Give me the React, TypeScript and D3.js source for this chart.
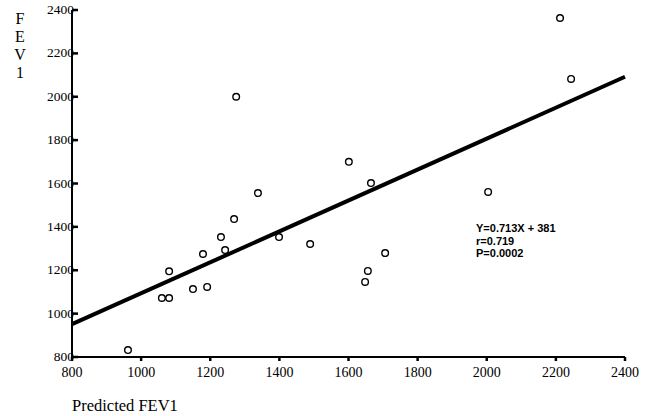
import * as d3 from "d3"
import React from "react"

const predicted = [962, 1060, 1081, 1081, 1150, 1191, 1179, 1231, 1243, 1269, 1275, 1338, 1399, 1489, 1601, 1665, 1706, 1656, 1648, 2004, 2212, 2244]
const measured = [832, 1072, 1072, 1195, 1113, 1123, 1275, 1353, 1293, 1436, 2000, 1556, 1353, 1321, 1700, 1602, 1279, 1197, 1146, 1561, 2363, 2082]
const xTicks = [800, 1000, 1200, 1400, 1600, 1800, 2000, 2200, 2400]
const yTicks = [800, 1000, 1200, 1400, 1600, 1800, 2000, 2200, 2400]
const slope = 0.713
const intercept = 381
const statLines = ["Y=0.713X + 381", "r=0.719", "P=0.0002"]
const yLabelChars = ["F", "E", "V", "1"]

export default function App() {
  const W = 654
  const H = 416
  const x = d3.scaleLinear().domain([800, 2400]).range([72, 625])
  const y = d3.scaleLinear().domain([800, 2400]).range([357, 10])
  const fit = d3.line<number>().x(d => x(d)).y(d => y(slope * d + intercept))([800, 2400])
  const serif = "'Liberation Serif', 'DejaVu Serif', serif"
  const sans = "'Liberation Sans', Arial, sans-serif"

  return (
    <svg width={W} height={H} style={{ position: "absolute", left: 0, top: 0, background: "#fff" }}>
      {/* axes */}
      <line x1={x(800)} y1={y(800)} x2={x(800)} y2={y(2400)} stroke="#000" strokeWidth={2} />
      <line x1={x(800)} y1={y(800)} x2={x(2400)} y2={y(800)} stroke="#000" strokeWidth={2} />
      {yTicks.map(t => (
        <g key={"y" + t}>
          <line x1={x(800)} x2={x(800) + 6} y1={y(t)} y2={y(t)} stroke="#000" strokeWidth={2.5} />
          <text x={x(800) + 2} y={y(t) + 4} textAnchor="end" fill="#000" fontFamily={serif} fontSize={13.5}>{t}</text>
        </g>
      ))}
      {xTicks.map(t => (
        <g key={"x" + t}>
          <line x1={x(t)} x2={x(t)} y1={y(800)} y2={y(800) + 4} stroke="#000" strokeWidth={2.5} />
          <text x={x(t)} y={y(800) + 20} textAnchor="middle" fill="#000" fontFamily={serif} fontSize={14}>{t}</text>
        </g>
      ))}
      {/* regression line */}
      <path d={fit || ""} stroke="#000" strokeWidth={4} fill="none" />
      {/* points */}
      {predicted.map((p, i) => (
        <circle key={i} cx={x(p)} cy={y(measured[i])} r={3.3} fill="#fff" stroke="#000" strokeWidth={1.4} />
      ))}
      {/* stats */}
      {statLines.map((s, i) => (
        <text key={s} x={476} y={232 + i * 12.5} fill="#000" fontFamily={sans} fontWeight="bold" fontSize={11}>{s}</text>
      ))}
      {/* axis titles */}
      {yLabelChars.map((c, i) => (
        <text key={i} x={20} y={24 + i * 18} textAnchor="middle" fill="#000" fontFamily={serif} fontSize={16}>{c}</text>
      ))}
      <text x={72} y={411} fill="#000" fontFamily={serif} fontSize={16.5}>Predicted FEV1</text>
    </svg>
  )
}
